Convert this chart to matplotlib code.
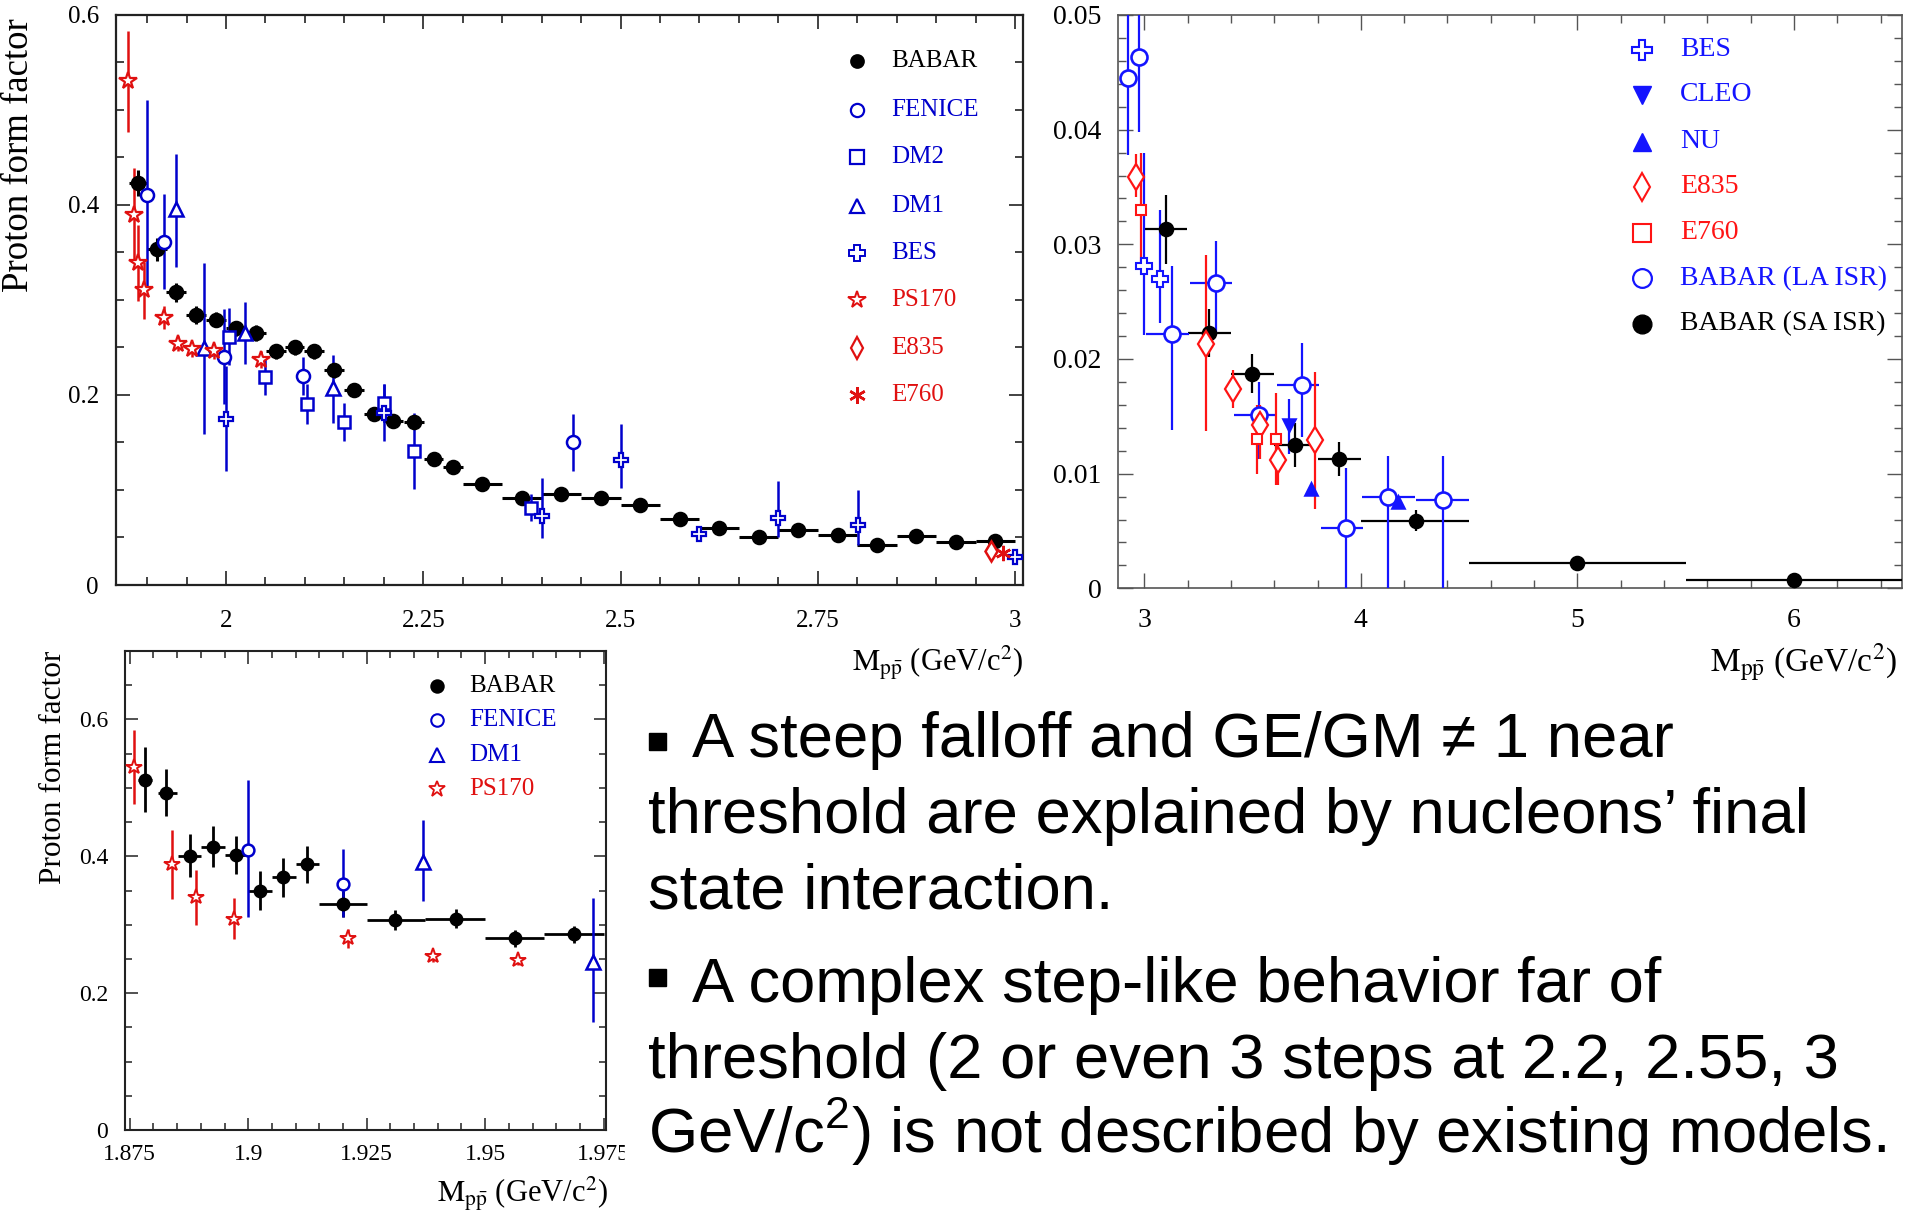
import matplotlib
matplotlib.use("Agg")
import matplotlib.pyplot as plt
from matplotlib.ticker import MultipleLocator
from matplotlib.patches import Rectangle

# ---------------------------------------------------------------- data
# Upper-left panel: |G| of the proton vs M(p pbar), wide range
tl_babar_m = [1.888, 1.913, 1.937, 1.962, 1.987, 2.013, 2.038, 2.063, 2.087, 2.112,
              2.137, 2.162, 2.187, 2.212, 2.238, 2.263, 2.288, 2.325, 2.375, 2.425,
              2.475, 2.525, 2.575, 2.625, 2.675, 2.725, 2.775, 2.825, 2.875, 2.925, 2.975]
tl_babar_ff = [0.423, 0.353, 0.308, 0.284, 0.279, 0.270, 0.265, 0.246, 0.250, 0.246,
               0.226, 0.205, 0.180, 0.172, 0.171, 0.133, 0.124, 0.106, 0.091, 0.096,
               0.091, 0.084, 0.069, 0.060, 0.051, 0.058, 0.053, 0.042, 0.052, 0.045, 0.046]
tl_babar_err = [0.014, 0.012, 0.010, 0.009, 0.008, 0.008, 0.008, 0.008, 0.008, 0.008,
                0.008, 0.007, 0.007, 0.007, 0.007, 0.006, 0.006, 0.005, 0.005, 0.005,
                0.005, 0.005, 0.005, 0.004, 0.004, 0.005, 0.005, 0.005, 0.005, 0.005, 0.005]
tl_babar_bin = [0.0115, 0.0125, 0.0125, 0.0125, 0.0125, 0.0125, 0.0125, 0.0125, 0.0125, 0.0125,
                0.0125, 0.0125, 0.0125, 0.0125, 0.0125, 0.0125, 0.0125, 0.025, 0.025, 0.025,
                0.025, 0.025, 0.025, 0.025, 0.025, 0.025, 0.025, 0.025, 0.025, 0.025, 0.025]

tl_fenice_m = [1.9005, 1.921, 1.998, 2.098, 2.440]
tl_fenice_ff = [0.410, 0.361, 0.240, 0.220, 0.150]
tl_fenice_err = [0.100, 0.050, 0.050, 0.020, 0.030]

tl_dm2_m = [2.004, 2.049, 2.1025, 2.150, 2.2004, 2.238, 2.3865]
tl_dm2_ff = [0.261, 0.219, 0.1905, 0.171, 0.191, 0.1407, 0.0813]
tl_dm2_err = [0.030, 0.019, 0.021, 0.020, 0.020, 0.040, 0.014]

tl_dm1_m = [1.9367, 1.972, 2.0245, 2.135]
tl_dm1_ff = [0.395, 0.249, 0.265, 0.207]
tl_dm1_lo = [0.060, 0.090, 0.033, 0.037]
tl_dm1_hi = [0.058, 0.090, 0.033, 0.035]

tl_bes_m = [2.000, 2.200, 2.4005, 2.500, 2.600, 2.700, 2.801, 3.000]
tl_bes_ff = [0.175, 0.181, 0.073, 0.131, 0.054, 0.070, 0.063, 0.029]
tl_bes_lo = [0.055, 0.030, 0.024, 0.029, 0.004, 0.020, 0.021, 0.003]
tl_bes_hi = [0.055, 0.030, 0.040, 0.038, 0.004, 0.039, 0.037, 0.003]

tl_ps170_m = [1.8757, 1.8834, 1.889, 1.896, 1.921, 1.939, 1.957, 1.985, 2.044]
tl_ps170_ff = [0.530, 0.389, 0.339, 0.310, 0.281, 0.254, 0.248, 0.246, 0.237]
tl_ps170_err = [0.053, 0.050, 0.040, 0.030, 0.012, 0.008, 0.008, 0.008, 0.009]

tl_e835_m = [2.969]
tl_e835_ff = [0.036]
tl_e835_err = [0.004]

tl_e760_m = [2.985]
tl_e760_ff = [0.0335]
tl_e760_err = [0.004]

# Upper-right panel: high-mass region
tr_bes_m = [3.000, 3.071]
tr_bes_ff = [0.0281, 0.0270]
tr_bes_lo = [0.0060, 0.0039]
tr_bes_hi = [0.0099, 0.0060]

tr_cleo_m = [3.669]
tr_cleo_ff = [0.0142]
tr_cleo_lo = [0.0025]
tr_cleo_hi = [0.0023]

tr_nu_m = [3.772, 4.170]
tr_nu_ff = [0.0087, 0.0075]

tr_e835_m = [2.960, 3.284, 3.410, 3.533, 3.618, 3.787]
tr_e835_ff = [0.0359, 0.0213, 0.0174, 0.0142, 0.0112, 0.0129]
tr_e835_lo = [0.0018, 0.0076, 0.0017, 0.0029, 0.0022, 0.0060]
tr_e835_hi = [0.0020, 0.0078, 0.0016, 0.0018, 0.0018, 0.0060]

tr_e760_m = [2.983, 3.522, 3.606]
tr_e760_ff = [0.0330, 0.0130, 0.0130]
tr_e760_err = [0.0050, 0.0030, 0.0040]

tr_la_m = [2.925, 2.975, 3.129, 3.330, 3.529, 3.730, 3.931, 4.126, 4.378]
tr_la_ff = [0.0445, 0.0463, 0.0222, 0.0266, 0.0151, 0.0177, 0.0053, 0.0080, 0.0077]
tr_la_lo = [0.0067, 0.0065, 0.0084, 0.0043, 0.0038, 0.0045, 0.0053, 0.0080, 0.0077]
tr_la_hi = [0.0080, 0.0080, 0.0059, 0.0037, 0.0029, 0.0037, 0.0052, 0.0035, 0.0038]
tr_la_mlo = [0.0, 0.0, 0.120, 0.117, 0.116, 0.117, 0.117, 0.123, 0.124]
tr_la_mhi = [0.0, 0.0, 0.077, 0.077, 0.077, 0.077, 0.077, 0.124, 0.122]

tr_sa_m = [3.099, 3.299, 3.499, 3.698, 3.900, 4.253, 5.000, 6.000]
tr_sa_ff = [0.0313, 0.0223, 0.0187, 0.0125, 0.0113, 0.0059, 0.0022, 0.0007]
tr_sa_err = [0.0030, 0.0021, 0.0017, 0.0019, 0.0015, 0.0009, 0.0003, 0.0002]
tr_sa_mlo = [0.099, 0.099, 0.099, 0.098, 0.100, 0.253, 0.500, 0.500]
tr_sa_mhi = [0.098, 0.101, 0.101, 0.102, 0.100, 0.247, 0.500, 0.500]

# Lower-left panel: threshold region
bl_babar_m = [1.8783, 1.8827, 1.8877, 1.8925, 1.8975, 1.9024, 1.9074, 1.9124,
              1.9200, 1.9310, 1.9438, 1.9562, 1.9687]
bl_babar_ff = [0.512, 0.493, 0.401, 0.414, 0.402, 0.350, 0.369, 0.388,
               0.331, 0.307, 0.309, 0.280, 0.286]
bl_babar_err = [0.048, 0.034, 0.032, 0.030, 0.028, 0.028, 0.028, 0.027,
                0.019, 0.014, 0.014, 0.013, 0.012]
bl_babar_mlo = [0.0016, 0.0017, 0.0025, 0.0025, 0.0025, 0.0024, 0.0024, 0.0024,
                0.0050, 0.0060, 0.0065, 0.0062, 0.0062]
bl_babar_mhi = [0.0013, 0.0023, 0.0023, 0.0025, 0.0025, 0.0026, 0.0026, 0.0026,
                0.0050, 0.0063, 0.0062, 0.0063, 0.0063]

bl_fenice_m = [1.900, 1.920]
bl_fenice_ff = [0.409, 0.360]
bl_fenice_lo = [0.098, 0.049]
bl_fenice_hi = [0.102, 0.050]

bl_dm1_m = [1.9368, 1.9728]
bl_dm1_ff = [0.392, 0.246]
bl_dm1_lo = [0.058, 0.088]
bl_dm1_hi = [0.061, 0.093]

bl_ps170_m = [1.8760, 1.8839, 1.8889, 1.8970, 1.9210, 1.9389, 1.9570]
bl_ps170_ff = [0.530, 0.388, 0.340, 0.309, 0.280, 0.254, 0.249]
bl_ps170_err = [0.054, 0.050, 0.040, 0.030, 0.014, 0.008, 0.008]

bullet_lines = [
    "A steep falloff and GE/GM \u2260 1 near",
    "threshold are explained by nucleons\u2019 final",
    "state interaction.",
    "A complex step-like behavior far of",
    "threshold (2 or even 3 steps at 2.2, 2.55, 3",
    r"GeV/c$^{2}$) is not described by existing models.",
]

# ---------------------------------------------------------------- style
plt.rcParams["font.family"] = ["Liberation Serif", "DejaVu Serif"]
plt.rcParams["mathtext.fontset"] = "custom"
plt.rcParams["mathtext.rm"] = "Liberation Sans"
plt.rcParams["mathtext.it"] = "Liberation Sans:italic"
plt.rcParams["mathtext.bf"] = "Liberation Sans:bold"

BLUE1, RED1 = "#0000cc", "#e01010"
BLUE2, RED2 = "#1414ff", "#ff1414"
STAR_MARK = "*"
AST_MARK = (6, 2, 0)

W, H = 1907, 1218
fig = plt.figure(figsize=(W / 100, H / 100), dpi=100)


def px_axes(left, top, right, bottom):
    return fig.add_axes([left / W, 1 - bottom / H, (right - left) / W, (bottom - top) / H])


ax1 = px_axes(115.5, 14.6, 1023, 585)
ax2 = px_axes(1118.3, 15, 1902.3, 588.3)
ax3 = px_axes(125, 651, 606, 1130)


def frame(ax, color, lw, maj, mino, tw, fs, padx, pady):
    for s in ax.spines.values():
        s.set_color(color)
        s.set_linewidth(lw)
    ax.tick_params(which="both", direction="in", top=True, right=True,
                   color=color, width=tw, labelsize=fs, labelcolor="black")
    ax.tick_params(which="major", length=maj)
    ax.tick_params(which="minor", length=mino)
    ax.tick_params(axis="x", pad=padx)
    ax.tick_params(axis="y", pad=pady)


def series(ax, m, ff, lo, hi, color, marker, ms, filled=False, mlo=None, mhi=None,
           lw=1.8, mew=1.8, z=3):
    xerr = None if mlo is None else [mlo, mhi]
    ax.errorbar(m, ff, yerr=[lo, hi], xerr=xerr, fmt="none", ecolor=color,
                elinewidth=lw, capsize=0, zorder=z)
    ax.plot(m, ff, ls="none", marker=marker, ms=ms,
            mfc=color if filled else "white", mec=color, mew=mew, zorder=z + 0.5)


def key(ax, entries, xm, xt, ys, fs):
    for (label, color, marker, ms, filled, mew), y in zip(entries, ys):
        ax.plot([xm], [y], transform=ax.transAxes, ls="none", marker=marker, ms=ms,
                mfc=color if filled else "white", mec=color, mew=mew, clip_on=False, zorder=6)
        ax.text(xt, y, label, transform=ax.transAxes, color=color, fontsize=fs,
                ha="left", va="center", zorder=6)


MLABEL = r"$\mathrm{M}_{\mathrm{p\bar{p}}}$ (GeV/c$^{2}$)"

# ---------------------------------------------------------------- upper left
series(ax1, tl_babar_m, tl_babar_ff, tl_babar_err, tl_babar_err, "black", "o", 9.4,
       filled=True, mlo=tl_babar_bin, mhi=tl_babar_bin, lw=2.2)
series(ax1, tl_fenice_m, tl_fenice_ff, tl_fenice_err, tl_fenice_err, BLUE1, "o", 9.4)
series(ax1, tl_dm2_m, tl_dm2_ff, tl_dm2_err, tl_dm2_err, BLUE1, "s", 9.0)
series(ax1, tl_dm1_m, tl_dm1_ff, tl_dm1_lo, tl_dm1_hi, BLUE1, "^", 10.0)
series(ax1, tl_bes_m, tl_bes_ff, tl_bes_lo, tl_bes_hi, BLUE1, "P", 10.5, mew=1.6)
series(ax1, tl_ps170_m, tl_ps170_ff, tl_ps170_err, tl_ps170_err, RED1, STAR_MARK, 13.0, mew=1.6)
series(ax1, tl_e835_m, tl_e835_ff, tl_e835_err, tl_e835_err, RED1, "d", 10.0)
series(ax1, tl_e760_m, tl_e760_ff, tl_e760_err, tl_e760_err, RED1, AST_MARK, 11.0, filled=True)

ax1.set_xlim(1.86, 3.01)
ax1.set_ylim(0, 0.6)
ax1.set_xticks([2, 2.25, 2.5, 2.75, 3], ["2", "2.25", "2.5", "2.75", "3"])
ax1.xaxis.set_minor_locator(MultipleLocator(0.05))
ax1.set_yticks([0, 0.2, 0.4, 0.6], ["0", "0.2", "0.4", "0.6"])
ax1.yaxis.set_minor_locator(MultipleLocator(0.05))
frame(ax1, "#222222", 1.6, 10, 5.8, 1.2, 18, 18, 12)
ax1.text(-0.107, 0.994, "Proton form factor", transform=ax1.transAxes, rotation=90,
         ha="center", va="top", fontsize=26.5)
ax1.text(1.0, -0.137, MLABEL, transform=ax1.transAxes, ha="right", va="center",
         fontsize=22, math_fontfamily="stix")

key(ax1, [("BABAR", "black", "o", 9.0, True, 1.6),
          ("FENICE", BLUE1, "o", 9.5, False, 1.6),
          ("DM2", BLUE1, "s", 10.0, False, 1.6),
          ("DM1", BLUE1, "^", 10.5, False, 1.6),
          ("BES", BLUE1, "P", 11.0, False, 1.4),
          ("PS170", RED1, STAR_MARK, 13.0, False, 1.4),
          ("E835", RED1, "d", 11.0, False, 1.6),
          ("E760", RED1, AST_MARK, 12.0, True, 1.8)],
    0.8175, 0.855, [0.919, 0.8336, 0.7505, 0.6653, 0.582, 0.499, 0.4159, 0.3326], 18)

# ---------------------------------------------------------------- upper right
series(ax2, tr_sa_m, tr_sa_ff, tr_sa_err, tr_sa_err, "black", "o", 9.4, filled=True,
       mlo=tr_sa_mlo, mhi=tr_sa_mhi, lw=1.6)
series(ax2, tr_la_m, tr_la_ff, tr_la_lo, tr_la_hi, BLUE2, "o", 11.5,
       mlo=tr_la_mlo, mhi=tr_la_mhi, lw=1.6, mew=1.9)
series(ax2, tr_bes_m, tr_bes_ff, tr_bes_lo, tr_bes_hi, BLUE2, "P", 11.5, lw=1.6, mew=1.5)
series(ax2, tr_cleo_m, tr_cleo_ff, tr_cleo_lo, tr_cleo_hi, BLUE2, "v", 9.0, filled=True, lw=1.6)
series(ax2, tr_nu_m, tr_nu_ff, [0, 0], [0, 0], BLUE2, "^", 9.0, filled=True, lw=1.6)
series(ax2, tr_e835_m, tr_e835_ff, tr_e835_lo, tr_e835_hi, RED2, "d", 13.0, lw=1.6, mew=1.6)
series(ax2, tr_e760_m, tr_e760_ff, tr_e760_err, tr_e760_err, RED2, "s", 7.5, lw=1.6, mew=1.5)

ax2.set_xlim(2.88, 6.5)
ax2.set_ylim(0, 0.05)
ax2.set_xticks([3, 4, 5, 6], ["3", "4", "5", "6"])
ax2.xaxis.set_minor_locator(MultipleLocator(0.2))
ax2.set_yticks([0, 0.01, 0.02, 0.03, 0.04, 0.05], ["0", "0.01", "0.02", "0.03", "0.04", "0.05"])
ax2.yaxis.set_minor_locator(MultipleLocator(0.002))
frame(ax2, "#555555", 1.2, 10.5, 5.8, 1.0, 20, 14, 12)
ax2.text(0.993, -0.130, MLABEL, transform=ax2.transAxes, ha="right", va="center",
         fontsize=24, math_fontfamily="stix")

key(ax2, [("BES", BLUE2, "P", 14.0, False, 1.5),
          ("CLEO", BLUE2, "v", 13.0, True, 1.0),
          ("NU", BLUE2, "^", 13.0, True, 1.0),
          ("E835", RED2, "d", 14.0, False, 1.5),
          ("E760", RED2, "s", 13.0, False, 1.5),
          ("BABAR (LA ISR)", BLUE2, "o", 13.5, False, 1.6),
          ("BABAR (SA ISR)", "black", "o", 13.5, True, 1.0)],
    0.6684, 0.7165, [0.939, 0.8605, 0.779, 0.7005, 0.6203, 0.5407, 0.461], 20)

# ---------------------------------------------------------------- lower left
series(ax3, bl_babar_m, bl_babar_ff, bl_babar_err, bl_babar_err, "black", "o", 8.2,
       filled=True, mlo=bl_babar_mlo, mhi=bl_babar_mhi, lw=2.0)
series(ax3, bl_fenice_m, bl_fenice_ff, bl_fenice_lo, bl_fenice_hi, BLUE1, "o", 8.5, lw=1.8)
series(ax3, bl_dm1_m, bl_dm1_ff, bl_dm1_lo, bl_dm1_hi, BLUE1, "^", 9.5, lw=1.8)
series(ax3, bl_ps170_m, bl_ps170_ff, bl_ps170_err, bl_ps170_err, RED1, STAR_MARK, 11.5,
       lw=1.8, mew=1.4)

ax3.set_xlim(1.874, 1.9755)
ax3.set_ylim(0, 0.7)
ax3.set_xticks([1.875, 1.9, 1.925, 1.95, 1.975], ["1.875", "1.9", "1.925", "1.95", "1.975"])
ax3.xaxis.set_minor_locator(MultipleLocator(0.005))
ax3.set_yticks([0, 0.2, 0.4, 0.6], ["0", "0.2", "0.4", "0.6"])
ax3.yaxis.set_minor_locator(MultipleLocator(0.05))
frame(ax3, "#222222", 1.5, 9, 5, 1.1, 17, 10, 12)
ax3.text(-0.1486, 1.0, "Proton form factor", transform=ax3.transAxes, rotation=90,
         ha="center", va="top", fontsize=22.5)
ax3.text(1.004, -0.1336, MLABEL, transform=ax3.transAxes, ha="right", va="center",
         fontsize=22, math_fontfamily="stix")

key(ax3, [("BABAR", "black", "o", 9.0, True, 1.4),
          ("FENICE", BLUE1, "o", 9.0, False, 1.5),
          ("DM1", BLUE1, "^", 10.0, False, 1.5),
          ("PS170", RED1, STAR_MARK, 12.0, False, 1.3)],
    0.649, 0.7165, [0.9276, 0.856, 0.7837, 0.712], 18)

# the bullet text block overlaps the last tick label of the lower panel
fig.add_artist(Rectangle((625 / W, 1 - 1175 / H), 20 / W, 42 / H,
                         transform=fig.transFigure, color="white", zorder=20))

# ---------------------------------------------------------------- bullet text
sans = ["Liberation Sans", "DejaVu Sans"]
FS = 45.6
line_pos = [(692, 756.7), (648, 833.3), (648, 908.3),
            (692, 1001.7), (648, 1078.3), (648, 1153.3)]
for (x, y), s in zip(line_pos, bullet_lines):
    fig.text(x / W, 1 - y / H, s, fontsize=FS, family=sans, ha="left",
             va="baseline", color="black", zorder=21)
for yc in (741, 977.5):
    fig.add_artist(Rectangle((648.5 / W, 1 - (yc + 8.5) / H), 17 / W, 17 / H,
                             transform=fig.transFigure, color="black", zorder=21))

fig.savefig("out.png", dpi=100, facecolor="white")
